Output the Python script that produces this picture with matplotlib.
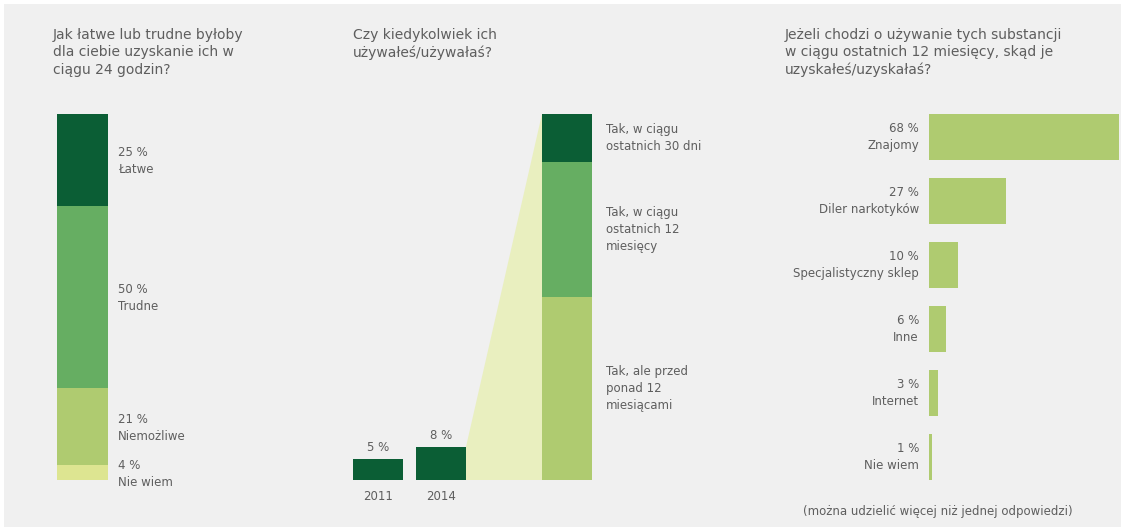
import matplotlib.pyplot as plt
from matplotlib.patches import Rectangle

W, H = 1121, 527

# panel 1: how easy to get within 24 h
ease_labels = ["Łatwe", "Trudne", "Niemożliwe", "Nie wiem"]
ease_values = [25, 50, 21, 4]

# panel 2: ever used
years = ["2011", "2014"]
ever_used = [5, 8]
recency_labels = ["Tak, w ciągu\nostatnich 30 dni",
                  "Tak, w ciągu\nostatnich 12\nmiesięcy",
                  "Tak, ale przed\nponad 12\nmiesiącami"]
recency_share = [13, 37, 50]

# panel 3: where obtained
source_labels = ["Znajomy", "Diler narkotyków", "Specjalistyczny sklep",
                 "Inne", "Internet", "Nie wiem"]
source_values = [68, 27, 10, 6, 3, 1]

DARK = "#0b5e35"
MID = "#66ae62"
LIGHT = "#afcb70"
PALE = "#dde591"
WEDGE = "#e9efbf"
TXT = "#5e5e5e"
BG = "#f0f0f0"

plt.rcParams["font.family"] = ["DejaVu Sans"]

fig = plt.figure(figsize=(W / 100, H / 100), dpi=100, facecolor="white")
fig.patches.append(Rectangle((4 / W, 0), 1, 1 - 4 / H, transform=fig.transFigure,
                             facecolor=BG, edgecolor="none", zorder=-10))


def axbox(x0, y0, x1, y1):
    ax = fig.add_axes([x0 / W, 1 - y1 / H, (x1 - x0) / W, (y1 - y0) / H])
    ax.axis("off")
    ax.patch.set_alpha(0)
    return ax


def title(x, y, s):
    fig.text(x / W, 1 - y / H, s, ha="left", va="top", fontsize=10,
             color=TXT, linespacing=1.3)


title(53, 28, "Jak łatwe lub trudne byłoby\ndla ciebie uzyskanie ich w\nciągu 24 godzin?")
title(353, 28, "Czy kiedykolwiek ich\nużywałeś/używałaś?")
title(785, 28, "Jeżeli chodzi o używanie tych substancji\nw ciągu ostatnich 12 miesięcy, skąd je\nuzyskałeś/uzyskałaś?")

LS = 8.5

# ---- panel 1
ax1 = axbox(57, 114, 300, 480)
ax1.set_xlim(0, 243 / 51)
ax1.set_ylim(0, 100)
top = 100
for lab, v, c in zip(ease_labels, ease_values, [DARK, MID, LIGHT, PALE]):
    ax1.bar(0, v, width=1, bottom=top - v, align="edge", color=c)
    ax1.annotate(f"{v} %\n{lab}", xy=(1, top - v / 2), xytext=(10, -1),
                 textcoords="offset pixels", ha="left", va="center",
                 fontsize=LS, color=TXT, linespacing=1.4)
    top -= v

# ---- panel 2
ax2 = axbox(340, 114, 760, 480)
ymax = 366 / 4.15
ax2.set_xlim(0, 420 / 50)
ax2.set_ylim(0, ymax)
xpos = [0.76, 2.02]
xstack = 4.54
ax2.bar(xpos, ever_used, width=1, color=DARK)
for x, v, yr in zip(xpos, ever_used, years):
    ax2.annotate(f"{v} %", xy=(x, v), xytext=(0, 5), textcoords="offset pixels",
                 ha="center", va="bottom", fontsize=LS, color=TXT)
    ax2.annotate(yr, xy=(x, 0), xytext=(0, -10), textcoords="offset pixels",
                 ha="center", va="top", fontsize=LS, color=TXT)
# connecting wedge from the 2014 bar to the breakdown bar
xr = xpos[-1] + 0.5
xl = xstack - 0.5
ax2.fill([xr, xr, xl, xl], [0, ever_used[-1], ymax, 0], color=WEDGE, lw=0)
bottom = 0
for lab, s, c in zip(recency_labels[::-1], recency_share[::-1], [LIGHT, MID, DARK]):
    h = s / 100 * ymax
    ax2.bar(xstack, h, width=1, bottom=bottom, color=c)
    ax2.annotate(lab, xy=(xstack + 0.5, bottom + h / 2), xytext=(14, 0),
                 textcoords="offset pixels", ha="left", va="center",
                 fontsize=LS, color=TXT, linespacing=1.4)
    bottom += h

# ---- panel 3
ax3 = axbox(929, 114, 1119, 480)
ax3.set_xlim(0, 190 / 2.85)
ax3.set_ylim(5.359, -0.359)
ypos = list(range(len(source_values)))
ax3.barh(ypos, source_values, height=46 / 64, color=LIGHT)
for y, v, lab in zip(ypos, source_values, source_labels):
    ax3.annotate(f"{v} %\n{lab}", xy=(0, y), xytext=(-10, 0),
                 textcoords="offset pixels", ha="right", va="center",
                 fontsize=LS, color=TXT, linespacing=1.4, annotation_clip=False)

fig.text(938 / W, 1 - 512 / H, "(można udzielić więcej niż jednej odpowiedzi)",
         ha="center", va="center", fontsize=LS, color=TXT)

fig.savefig("out.png", dpi=100, facecolor=fig.get_facecolor())
